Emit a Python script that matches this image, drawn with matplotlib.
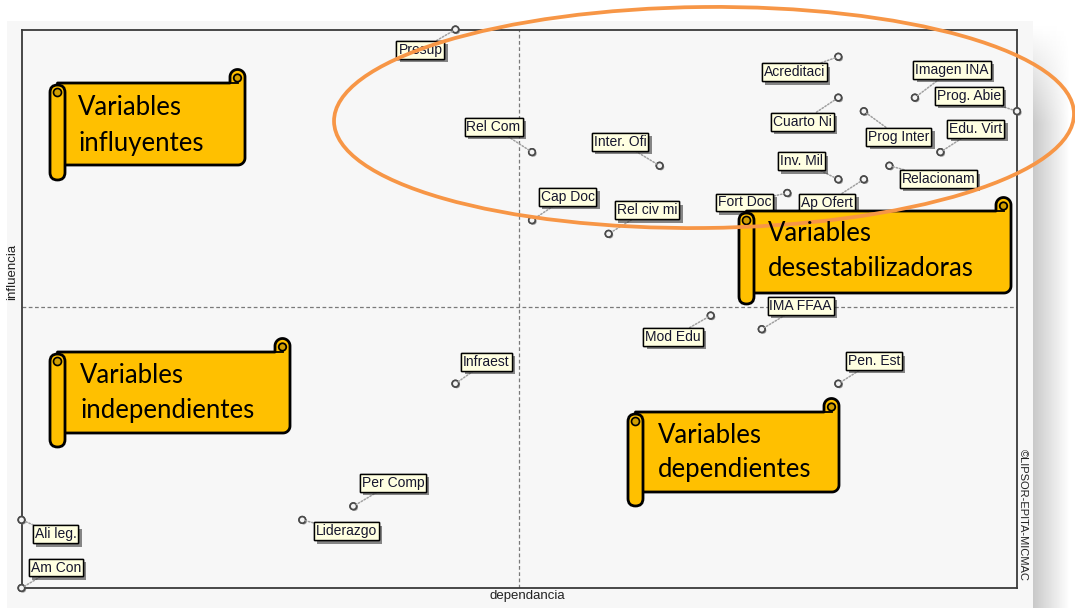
import numpy as np
import matplotlib
matplotlib.use("Agg")
import matplotlib.pyplot as plt
import matplotlib.patheffects as pe
from matplotlib import font_manager
from matplotlib.patches import Rectangle, Polygon, Ellipse, FancyBboxPatch, Circle


# MICMAC plano de influencia / dependencia
VARIABLES = ["Presup", "Rel Com", "Cap Doc", "Rel civ mi", "Inter. Ofi", "Acreditaci",
             "Cuarto Ni", "Prog Inter", "Imagen INA", "Prog. Abie", "Edu. Virt", "Inv. Mil",
             "Relacionam", "Ap Ofert", "Fort Doc", "IMA FFAA", "Mod Edu", "Pen. Est",
             "Infraest", "Per Comp", "Liderazgo", "Ali leg.", "Am Con"]
DEPENDENCIA = [17, 20, 20, 23, 25, 32, 32, 33, 35, 39, 36, 32, 34, 33, 30, 29, 27, 32, 17, 13, 11, 0, 0]
INFLUENCIA = [41, 32, 27, 26, 31, 39, 36, 35, 36, 35, 32, 30, 31, 30, 29, 19, 20, 15, 15, 6, 5, 5, 0]
DEP_MEDIA = 19.5
INF_MEDIA = 20.65

QUADRANT_TEXT = [["Variables", "influyentes"],
                 ["Variables", "independientes"],
                 ["Variables", "dependientes"],
                 ["Variables", "desestabilizadoras"]]

# label offsets from their point, in pixels (x right, y up)
LABEL_OFFSETS = [(-35, -20.5), (-38.5, 25), (35.5, 23.5), (38.5, 23.5), (-39.5, 24),
                 (-44, -15.5), (-36, -24), (35, -25.5), (37, 28), (-48, 15.5),
                 (35.5, 23), (-37, 18), (49, -13.5), (-36.5, -23.5), (-42.5, -9.5),
                 (39, 23.5), (-37.5, -21.5), (35.5, 22.5), (31, 22), (39.5, 23.5),
                 (44, -11.5), (34, -14.5), (34.5, 20.5)]

# scroll shapes in figure pixels: xl, yt, xr, yb, roll bottom, text x, baselines
BANNERS = [(50, 83, 245, 165, 180, 78, (115, 151)),
           (50, 352, 290, 433, 447, 80, (383, 418)),
           (628, 412, 839, 492, 506, 658, (443, 477)),
           (739, 211, 1011, 293, 304, 768, (241, 276))]

W, H = 1075, 608
FRAME = (21.5, 29.5, 1017, 588)  # left, top, right, bottom in pixels

names = {f.name for f in font_manager.fontManager.ttflist}
LABEL_FONT = "Liberation Sans Narrow" if "Liberation Sans Narrow" in names else "Liberation Sans"
BANNER_FONT = "Lato" if "Lato" in names else "DejaVu Sans"


def draw_scroll(ax, xl, yt, xr, yb, yroll, lines, tx, bases):
    gold, shade = "#FFC000", "#D19E00"
    w, r, rc = 15, 7.5, 7
    cx, cy = xr - r, yt - 6
    t = np.linspace(np.pi, 0, 30)
    arc = np.column_stack([cx + r * np.cos(t), cy - r * np.sin(t)])
    t2 = np.linspace(0, np.pi / 2, 12)
    corner = np.column_stack([xr - rc + rc * np.cos(t2), yb - rc + rc * np.sin(t2)])
    verts = ([(xl + w / 2, yt), (xr - 2 * r, yt), (xr - 2 * r, cy)] + arc.tolist()
             + [(xr, cy)] + corner.tolist() + [(xl + w / 2, yb)])
    ax.add_patch(Polygon(verts, closed=True, fc=gold, ec="black", lw=2, joinstyle="round"))
    ax.add_patch(Circle((cx, cy + 1), r * 0.5, fc=shade, ec="black", lw=1.3))
    ax.plot([xr - 2 * r, cx], [yt, yt], color="black", lw=1.3)

    ax.add_patch(FancyBboxPatch((xl, yt + 2), w, yroll - (yt + 2),
                                boxstyle=f"round,pad=0,rounding_size={w / 2}",
                                fc=gold, ec="black", lw=2))
    ax.add_patch(Circle((xl + w / 2, yt + 2 + w / 2), 4, fc=shade, ec="black", lw=1.2))
    for line, base in zip(lines, bases):
        ax.text(tx, base, line, fontsize=18.5, family=BANNER_FONT, color="black",
                ha="left", va="baseline")


def main():
    fig = plt.figure(figsize=(W / 100, H / 100), dpi=100)

    # panel with shadow
    bg = fig.add_axes([0, 0, 1, 1], zorder=0)
    grad_x = np.linspace(0.74, 1.0, 60) ** 0.8
    grad_y = np.clip(np.linspace(0, 1, 120) * 6, 0, 1)
    grad = 1 - np.outer(grad_y, 1 - grad_x)
    bg.imshow(grad, cmap="gray", vmin=0, vmax=1, extent=(1033, 1070, 608, 24),
              aspect="auto", interpolation="bilinear")
    bg.add_patch(Rectangle((7, 21), 1026, 600, fc="#F7F7F7", ec="none"))
    bg.set_xlim(0, W)
    bg.set_ylim(H, 0)
    bg.axis("off")

    left, top, right, bottom = FRAME
    ax = fig.add_axes([left / W, 1 - bottom / H, (right - left) / W, (bottom - top) / H], zorder=1)
    ax.set_facecolor("#F7F7F7")
    ax.set_xlim(min(DEPENDENCIA), max(DEPENDENCIA))
    ax.set_ylim(min(INFLUENCIA), max(INFLUENCIA))
    ax.set_xticks([])
    ax.set_yticks([])
    for s in ax.spines.values():
        s.set_color("#3a3a3a")
        s.set_linewidth(1.3)

    ax.axvline(DEP_MEDIA, color="#7a7a7a", lw=0.9, ls=(0, (3, 2)), zorder=1)
    ax.axhline(INF_MEDIA, color="#7a7a7a", lw=0.9, ls=(0, (3, 2)), zorder=1)

    ax.scatter(DEPENDENCIA, INFLUENCIA, s=22, facecolor="#f4f4f4", edgecolor="#4a4a4a",
               linewidths=1.2, zorder=5, clip_on=False,
               path_effects=[pe.withSimplePatchShadow(offset=(1, -1), shadow_rgbFace="#777777",
                                                      alpha=0.7), pe.Normal()])

    for name, x, y, off in zip(VARIABLES, DEPENDENCIA, INFLUENCIA, LABEL_OFFSETS):
        t = ax.annotate(name, (x, y), xytext=off, textcoords="offset pixels",
                        ha="center", va="center", fontsize=10, family=LABEL_FONT,
                        color="#15152e", zorder=6, annotation_clip=False,
                        bbox=dict(boxstyle="square,pad=0.14", fc="#FFFFE1", ec="black", lw=1),
                        arrowprops=dict(arrowstyle="-", color="#a0a0a0", lw=1.1,
                                        linestyle=(0, (1, 1.2)), shrinkA=0, shrinkB=2.5))
        t.get_bbox_patch().set_path_effects([
            pe.withSimplePatchShadow(offset=(2.4, -2.4), shadow_rgbFace="#3a3a3a", alpha=0.6),
            pe.Normal()])

    ax.set_xlabel("dependancia", fontsize=9.5, family="Liberation Sans", color="#222222")
    ax.xaxis.set_label_coords((527 - left) / (right - left), -(590 - bottom) / (bottom - top))
    ax.set_ylabel("influencia", fontsize=9.5, family="Liberation Sans", color="#222222")
    ax.yaxis.set_label_coords((18 - left) / (right - left), (bottom - 272) / (bottom - top))

    # overlay: banners, ellipse, credit
    ov = fig.add_axes([0, 0, 1, 1], zorder=2)
    ov.set_xlim(0, W)
    ov.set_ylim(H, 0)
    ov.axis("off")
    for (xl, yt, xr, yb, yroll, tx, bases), lines in zip(BANNERS, QUADRANT_TEXT):
        draw_scroll(ov, xl, yt, xr, yb, yroll, lines, tx, bases)
    ov.add_patch(Ellipse((704, 117.5), 740, 221, angle=-0.6, fill=False,
                         ec="#F79646", lw=2.7))
    ov.text(1023, 515, "©LIPSOR-EPITA-MICMAC", rotation=-90, fontsize=8,
            family="Liberation Sans", color="#222222", ha="center", va="center")

    fig.savefig("out.png", dpi=100)
    plt.close(fig)


if __name__ == "__main__":
    main()
